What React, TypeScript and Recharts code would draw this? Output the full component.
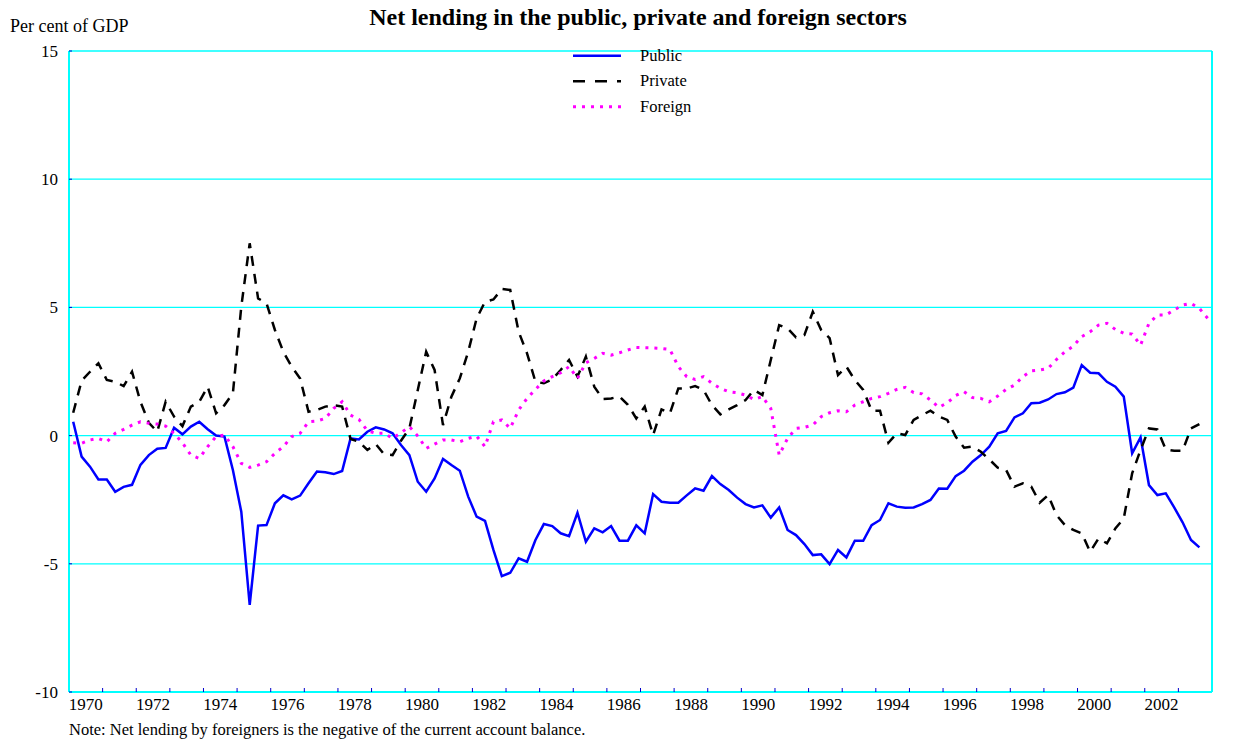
import { LineChart, Line, XAxis, YAxis, CartesianGrid } from 'recharts';

const SERIF = '"Liberation Serif", "Times New Roman", serif';

// quarterly, 1970 Q1 onwards (per cent of GDP)
const START_YEAR = 1970;

const publicLending = [
  0.54, -0.82, -1.21, -1.71, -1.71, -2.19, -2.0, -1.92, -1.14, -0.76,
  -0.51, -0.48, 0.31, 0.05, 0.35, 0.54, 0.25, 0.0, -0.04, -1.34,
  -2.97, -6.6, -3.51, -3.49, -2.64, -2.33, -2.49, -2.34, -1.86, -1.4,
  -1.43, -1.5, -1.38, -0.11, -0.15, 0.15, 0.32, 0.24, 0.09, -0.37,
  -0.76, -1.8, -2.19, -1.67, -0.91, -1.15, -1.37, -2.38, -3.16, -3.33,
  -4.46, -5.48, -5.35, -4.79, -4.92, -4.07, -3.45, -3.53, -3.81, -3.92,
  -3.01, -4.14, -3.62, -3.77, -3.53, -4.1, -4.1, -3.5, -3.81, -2.28,
  -2.58, -2.62, -2.62, -2.33, -2.06, -2.15, -1.58, -1.89, -2.12, -2.42,
  -2.67, -2.8, -2.72, -3.2, -2.8, -3.68, -3.88, -4.23, -4.66, -4.63,
  -5.01, -4.46, -4.75, -4.1, -4.1, -3.49, -3.29, -2.64, -2.77, -2.81,
  -2.8, -2.67, -2.51, -2.06, -2.07, -1.58, -1.37, -1.02, -0.76, -0.43,
  0.09, 0.18, 0.71, 0.87, 1.26, 1.28, 1.41, 1.62, 1.69, 1.87,
  2.75, 2.45, 2.43, 2.1, 1.91, 1.52, -0.69, -0.07, -1.93, -2.32,
  -2.25, -2.8, -3.38, -4.07, -4.36,
];

const privateLending = [
  0.89, 2.14, 2.49, 2.82, 2.17, 2.1, 1.93, 2.49, 1.32, 0.5,
  0.15, 1.32, 0.74, 0.37, 1.13, 1.32, 1.91, 0.87, 1.19, 1.65,
  5.03, 7.5, 5.35, 5.16, 4.12, 3.27, 2.69, 2.23, 0.93, 1.0,
  1.13, 1.19, 1.13, -0.13, -0.24, -0.56, -0.33, -0.73, -0.76, -0.2,
  0.28, 1.78, 3.27, 2.56, 0.41, 1.52, 2.23, 3.27, 4.57, 5.22,
  5.31, 5.72, 5.68, 4.05, 3.21, 2.1, 2.04, 2.19, 2.56, 2.95,
  2.3, 3.08, 1.91, 1.43, 1.45, 1.52, 1.2, 0.67, 1.13, 0.02,
  1.02, 0.87, 1.84, 1.84, 1.93, 1.78, 1.19, 0.83, 1.02, 1.19,
  1.39, 1.78, 1.58, 2.95, 4.31, 4.18, 3.83, 3.92, 4.83, 4.12,
  3.8, 2.36, 2.69, 2.17, 1.78, 0.97, 0.97, -0.28, 0.09, 0.02,
  0.61, 0.8, 0.97, 0.74, 0.61, -0.04, -0.47, -0.43, -0.63, -0.93,
  -1.25, -1.34, -1.99, -1.86, -1.99, -2.62, -2.32, -3.1, -3.49, -3.68,
  -3.81, -4.53, -4.01, -4.2, -3.62, -3.23, -1.47, -0.56, 0.28, 0.24,
  -0.54, -0.59, -0.59, 0.28, 0.45,
];

const foreignLending = [
  -0.28, -0.3, -0.17, -0.11, -0.24, 0.09, 0.24, 0.41, 0.54, 0.48,
  0.45, 0.37, 0.09, -0.28, -0.76, -0.89, -0.43, -0.04, 0.02, -0.43,
  -1.08, -1.24, -1.15, -1.02, -0.69, -0.43, -0.04, 0.09, 0.54, 0.57,
  0.67, 1.06, 1.32, 0.8, 0.63, 0.19, 0.09, 0.09, -0.11, 0.11,
  0.35, -0.02, -0.5, -0.33, -0.17, -0.17, -0.24, -0.11, -0.02, -0.43,
  0.54, 0.61, 0.28, 1.0, 1.45, 1.8, 2.13, 2.3, 2.45, 2.69,
  2.23, 2.84, 3.01, 3.21, 3.14, 3.23, 3.34, 3.44, 3.43, 3.42,
  3.4, 3.36, 2.69, 2.3, 2.19, 2.3, 2.04, 1.84, 1.71, 1.67,
  1.58, 1.41, 1.52, 1.06, -0.76, -0.11, 0.28, 0.32, 0.41, 0.74,
  0.89, 0.97, 0.93, 1.19, 1.32, 1.45, 1.52, 1.65, 1.8, 1.88,
  1.68, 1.63, 1.39, 1.1, 1.28, 1.56, 1.71, 1.48, 1.45, 1.32,
  1.54, 1.8, 1.97, 2.3, 2.53, 2.56, 2.62, 2.97, 3.27, 3.49,
  3.86, 4.05, 4.31, 4.38, 4.14, 3.99, 3.96, 3.53, 4.38, 4.7,
  4.7, 4.9, 5.09, 5.16, 4.96, 4.57,
];

const yearTicks = Array.from({ length: 35 }, (_, k) => START_YEAR + k);
const valueTicks = [-10, -5, 0, 5, 10, 15];

const data = foreignLending.map((f, i) => ({
  t: START_YEAR + (i + 0.5) / 4,
  public: publicLending[i] ?? null,
  private: privateLending[i] ?? null,
  foreign: f,
}));

const CYAN = '#00FFFF';
const TICK_BLUE = '#0000CC';
const HALF_YEAR_PX = 16.8;

// labels every other year, centred on the middle of the year
function YearTick(props: any) {
  const { x, y, payload } = props;
  const yr = payload.value;
  if (yr % 2 !== 0 || yr > 2002) return <g />;
  return (
    <text x={x + HALF_YEAR_PX} y={y} dy="0.71em" textAnchor="middle" fontSize={17} fill="#000" fontFamily={SERIF}>
      {yr}
    </text>
  );
}

const legendRows = [
  { name: 'Public', color: '#0000FF', dash: undefined, width: 2.5 },
  { name: 'Private', color: '#000000', dash: '12 10', width: 2.5 },
  { name: 'Foreign', color: '#FF00FF', dash: '3 6', width: 3 },
];

export default function App() {
  const tickStyle = { fontSize: 17, fill: '#000', fontFamily: SERIF };
  return (
    <div style={{ position: 'relative', width: 1244, height: 732, fontFamily: SERIF }}>
      <LineChart width={1244} height={724} data={data} margin={{ top: 43, right: 0, bottom: 15, left: 6 }}>
        <CartesianGrid vertical={false} stroke={CYAN} strokeWidth={1.3} />
        <XAxis
          dataKey="t"
          type="number"
          domain={[1970, 2004]}
          ticks={yearTicks}
          interval={0}
          height={25}
          tickSize={-4}
          tickMargin={10}
          tickLine={{ stroke: TICK_BLUE }}
          axisLine={{ stroke: CYAN, strokeWidth: 2 }}
          tick={<YearTick />}
          allowDataOverflow
        />
        <YAxis
          domain={[-10, 15]}
          ticks={valueTicks}
          interval={0}
          width={55}
          tickSize={-3}
          tickMargin={14}
          tickLine={{ stroke: TICK_BLUE }}
          axisLine={{ stroke: CYAN, strokeWidth: 2 }}
          tick={tickStyle}
        />
        <YAxis
          yAxisId="right"
          orientation="right"
          domain={[-10, 15]}
          ticks={valueTicks}
          interval={0}
          width={40}
          tickSize={-3}
          tickMargin={18}
          tickLine={{ stroke: TICK_BLUE }}
          axisLine={{ stroke: CYAN, strokeWidth: 2 }}
          tick={tickStyle}
        />
        <Line type="linear" dataKey="public" stroke="#0000FF" strokeWidth={2.5} dot={false} activeDot={false} isAnimationActive={false} />
        <Line type="linear" dataKey="private" stroke="#000000" strokeWidth={2.5} strokeDasharray="10 8" dot={false} activeDot={false} isAnimationActive={false} />
        <Line type="linear" dataKey="foreign" stroke="#FF00FF" strokeWidth={3} strokeDasharray="3 6" dot={false} activeDot={false} isAnimationActive={false} />
      </LineChart>
      {/* overlay in page coordinates (body margin is 8px) */}
      <svg width={1260} height={740} style={{ position: 'absolute', left: -8, top: -8, pointerEvents: 'none' }}>
        <text x={638} y={25} textAnchor="middle" fontSize={24} fontWeight="bold" fontFamily={SERIF}>
          Net lending in the public, private and foreign sectors
        </text>
        <text x={10} y={32} fontSize={18} fontFamily={SERIF}>Per cent of GDP</text>
        {legendRows.map((r, k) => {
          const y = 55.7 + k * 25.5;
          return (
            <g key={r.name}>
              <line x1={573} x2={621} y1={y} y2={y} stroke={r.color} strokeWidth={r.width} strokeDasharray={r.dash} />
              <text x={640} y={y + 5} fontSize={16.5} fontFamily={SERIF}>{r.name}</text>
            </g>
          );
        })}
        <text x={69} y={735} fontSize={16.5} fontFamily={SERIF}>
          Note: Net lending by foreigners is the negative of the current account balance.
        </text>
      </svg>
    </div>
  );
}
